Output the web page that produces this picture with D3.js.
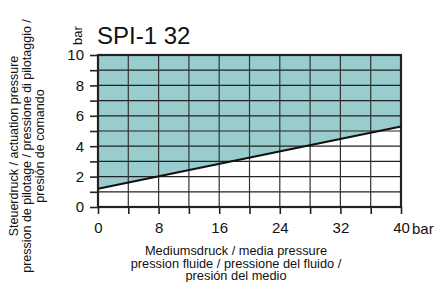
<!DOCTYPE html>
<html>
<head>
<meta charset="utf-8">
<script src="https://cdn.jsdelivr.net/npm/d3@7"></script>
<style>
  body { margin: 0; background: #fff; }
  text { font-family: Arial, "Liberation Sans", sans-serif; fill: #111; }
</style>
</head>
<body>
<svg id="chart" width="434" height="282"></svg>
<script>
const title = "SPI-1 32";
const mediumPressure = [0, 40];
const actuationPressure = [1.2, 5.3];
const xTicks = [0, 8, 16, 24, 32, 40];
const yTicks = [0, 2, 4, 6, 8, 10];
const yTitle = ["Steuerdruck / actuation pressure", "pression de pilotage / pressione di pilotaggio /", "presión de comando"];
const xTitle = ["Mediumsdruck / media pressure", "pression fluide / pressione del fluido /", "presión del medio"];

const margin = { top: 55, left: 98, right: 33, bottom: 75 };
const width = 434, height = 282;
const innerWidth = width - margin.left - margin.right,
  innerHeight = height - margin.top - margin.bottom;

const x = d3.scaleLinear().domain([0, 40]).range([0, innerWidth]);
const y = d3.scaleLinear().domain([0, 10]).range([innerHeight, 0]);

const svg = d3.select("#chart");
const g = svg.append("g").attr("transform", `translate(${margin.left}, ${margin.top})`);

const pts = mediumPressure.map((m, i) => [m, actuationPressure[i]]);

// shaded area above the line
const area = d3.area().x((d) => x(d[0])).y0(y(10)).y1((d) => y(d[1]));
g.append("path").datum(pts).attr("d", area).attr("fill", "#99cccc");

// grid
g.selectAll(".hg").data(d3.range(0, 11)).join("line")
  .attr("x1", 0).attr("x2", innerWidth)
  .attr("y1", (d) => y(d)).attr("y2", (d) => y(d))
  .attr("stroke", "#222").attr("stroke-width", 1.2);
g.selectAll(".vg").data(d3.range(0, 41, 4)).join("line")
  .attr("x1", (d) => x(d)).attr("x2", (d) => x(d))
  .attr("y1", 0).attr("y2", innerHeight)
  .attr("stroke", "#333").attr("stroke-width", 1.2);

// frame
g.append("rect").attr("width", innerWidth).attr("height", innerHeight)
  .attr("fill", "none").attr("stroke", "#222").attr("stroke-width", 2.2);

// line
g.append("path").datum(pts)
  .attr("d", d3.line().x((d) => x(d[0])).y((d) => y(d[1])))
  .attr("stroke", "#111").attr("stroke-width", 2).attr("fill", "none");

// axes
const yAxis = g.append("g")
  .call(d3.axisLeft(y).tickValues(d3.range(0, 11)).tickSize(8));
const xAxis = g.append("g").attr("transform", `translate(0, ${innerHeight})`)
  .call(d3.axisBottom(x).tickValues(d3.range(0, 41, 4)).tickSize(7));
yAxis.selectAll(".tick text").filter((d) => !yTicks.includes(d)).remove();
xAxis.selectAll(".tick text").filter((d) => !xTicks.includes(d)).remove();
[yAxis, xAxis].forEach((a) => {
  a.select(".domain").remove();
  a.selectAll(".tick line").attr("stroke", "#222").attr("stroke-width", 1.6);
  a.selectAll(".tick text").attr("font-size", 15).attr("font-family", "Arial, 'Liberation Sans', sans-serif").attr("fill", "#111");
});
yAxis.selectAll(".tick text").attr("x", -14);
xAxis.selectAll(".tick text").attr("y", 15);

// title
svg.append("text").attr("x", 97).attr("y", 44).attr("font-size", 24).text(title);

// unit labels
svg.append("text").attr("transform", "translate(82, 45) rotate(-90)")
  .attr("font-size", 13).text("bar");
svg.append("text").attr("x", 412).attr("y", 234).attr("font-size", 15).text("bar");

// axis titles
svg.append("g").selectAll("text").data(yTitle).join("text")
  .attr("transform", (d, i) => `translate(${18 + i * 13}, 146) rotate(-90)`)
  .attr("text-anchor", "middle").attr("font-size", 12.5).text((d) => d);
svg.append("g").selectAll("text").data(xTitle).join("text")
  .attr("x", 236).attr("y", (d, i) => 255 + i * 12.5)
  .attr("text-anchor", "middle").attr("font-size", 12.8).text((d) => d);
</script>
</body>
</html>
